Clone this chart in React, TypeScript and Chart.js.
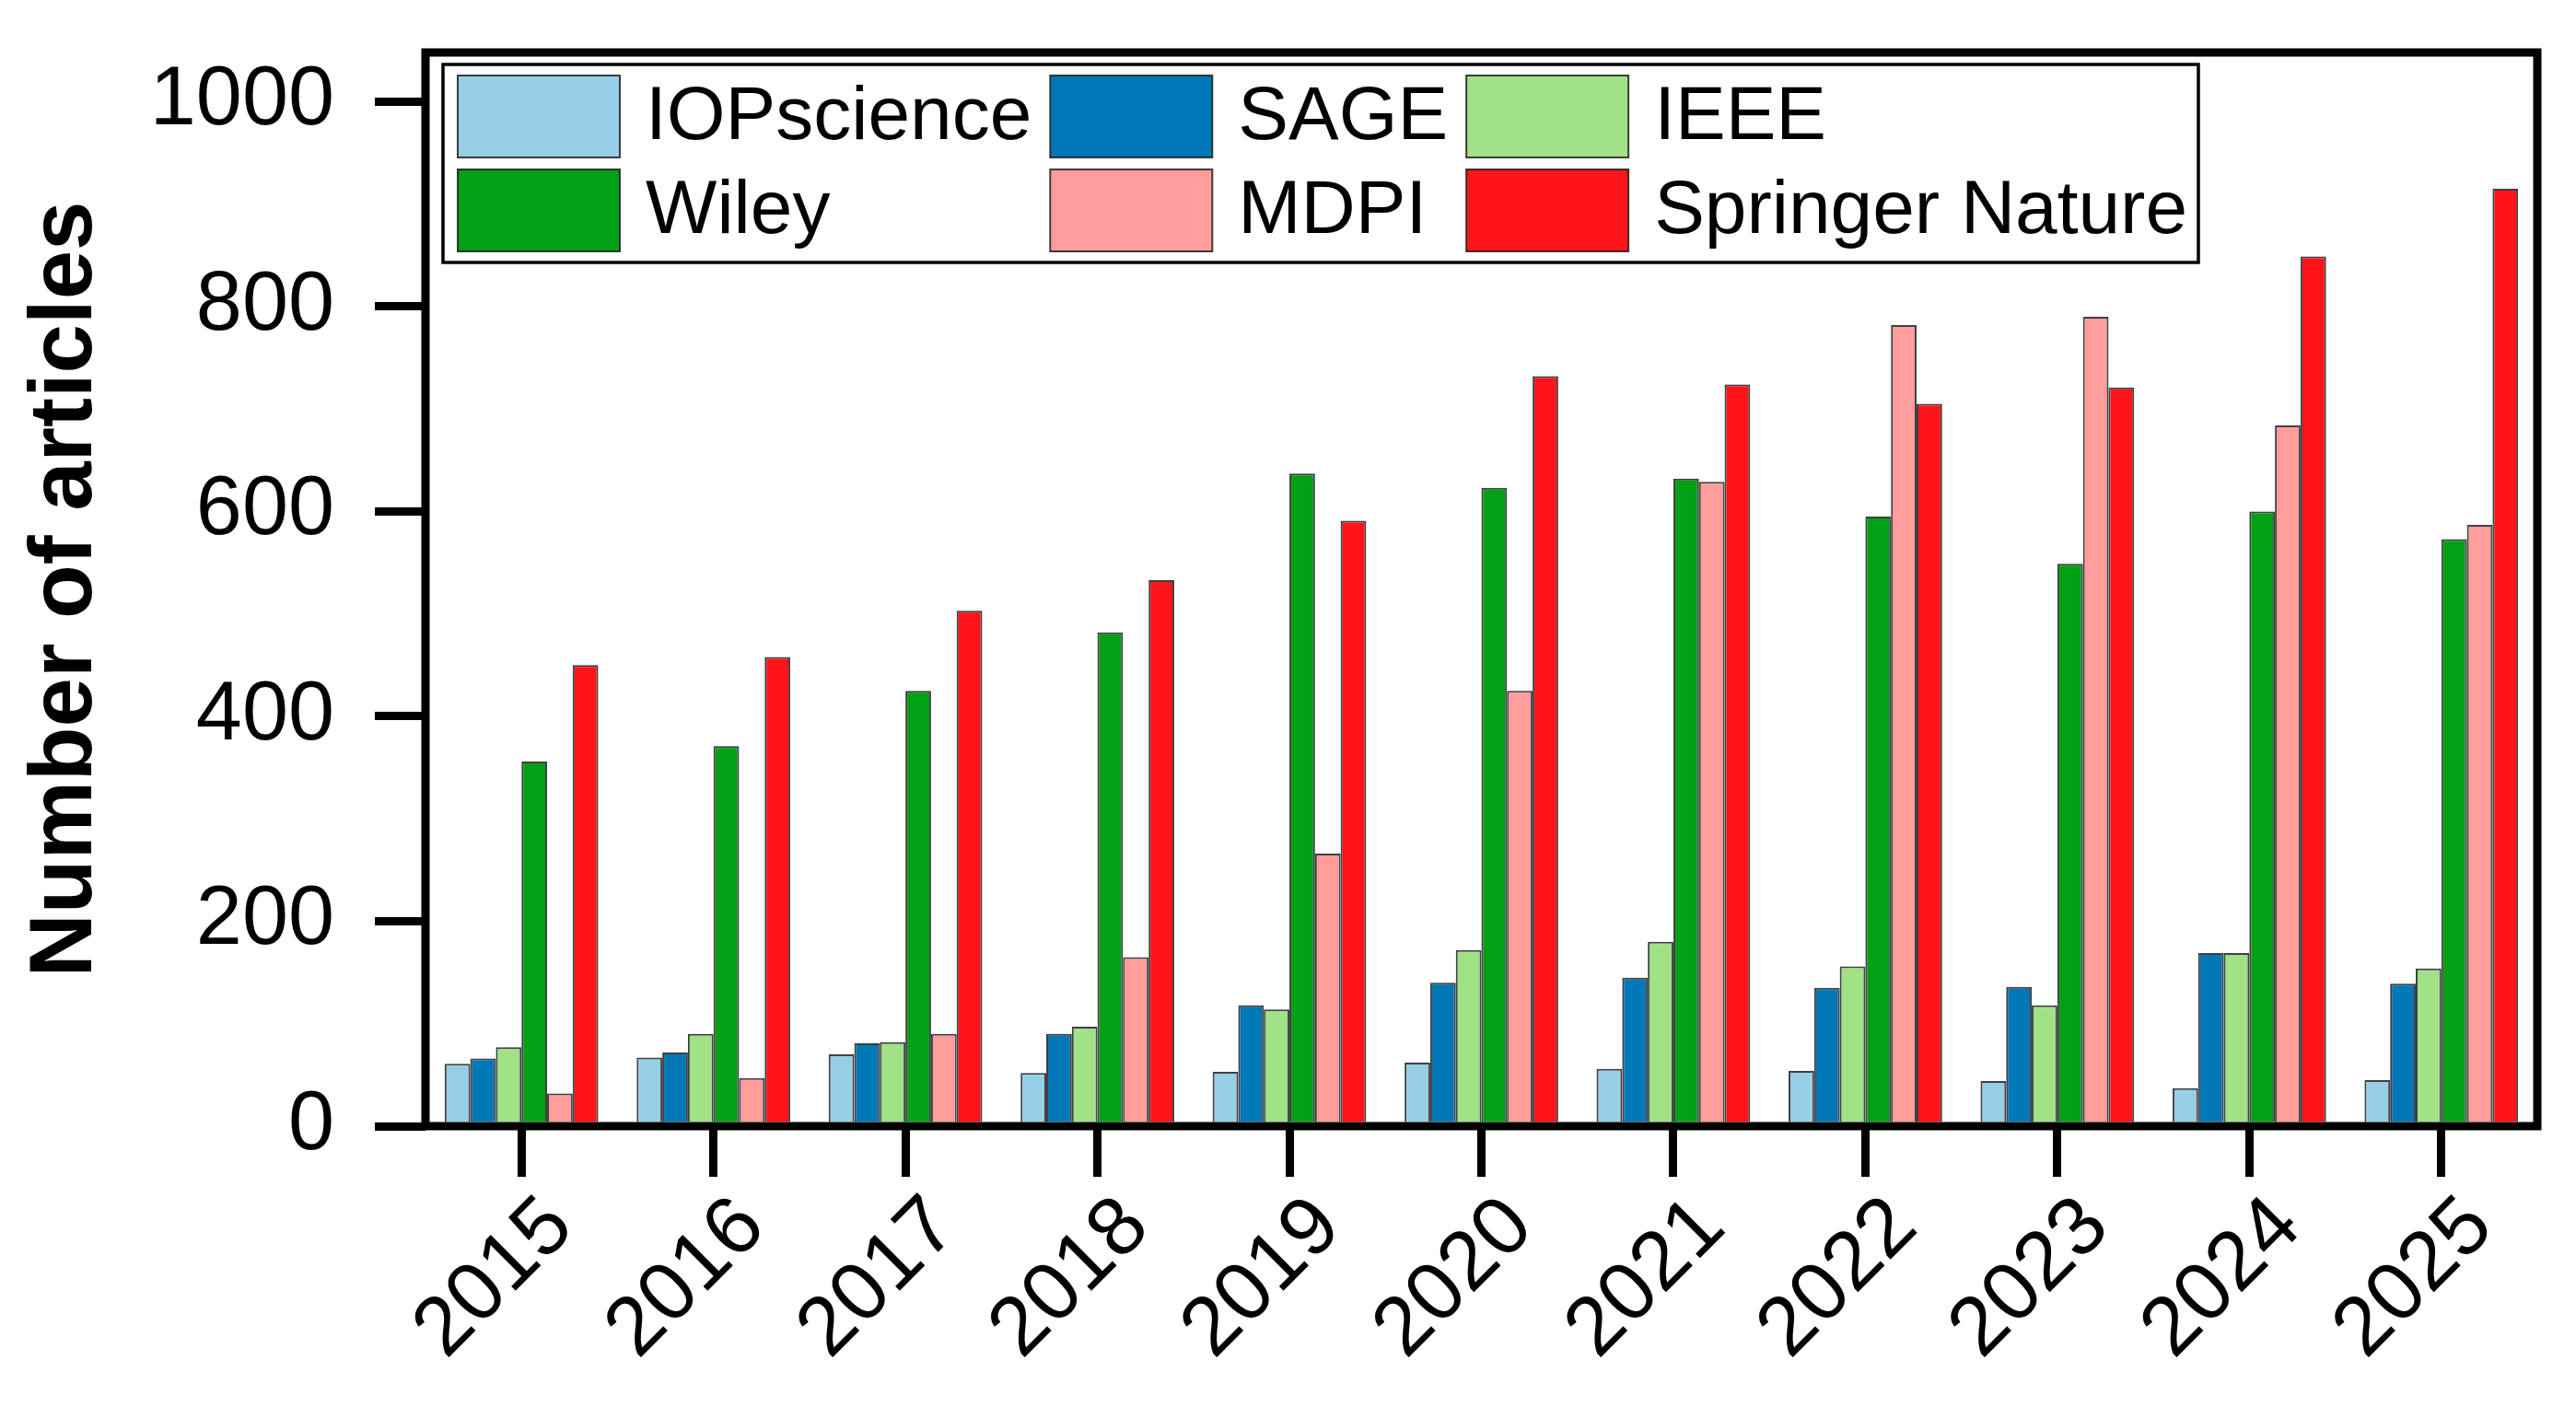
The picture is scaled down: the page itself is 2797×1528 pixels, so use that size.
import { useEffect, useRef } from 'react';
import { Chart, registerables } from 'chart.js';

Chart.register(...registerables);

// values
const years = ['2015', '2016', '2017', '2018', '2019', '2020', '2021', '2022', '2023', '2024', '2025'];
const iopscience = [61, 67, 70, 52, 53, 62, 56, 54, 44, 37, 45];
const sage = [66, 72, 81, 90, 118, 140, 145, 135, 136, 169, 139];
const ieee = [77, 90, 82, 97, 114, 172, 180, 156, 118, 169, 154];
const wiley = [356, 371, 425, 482, 637, 623, 632, 595, 549, 600, 573];
const mdpi = [32, 47, 90, 165, 266, 425, 629, 782, 790, 684, 587];
const springerNature = [450, 458, 503, 533, 591, 732, 724, 705, 721, 849, 915];
const yTicks = [0, 200, 400, 600, 800, 1000];

const FONT = '"Liberation Sans", Arial, Helvetica, sans-serif';

// thick black box round the plot area
const frame = {
  id: 'frame',
  afterDatasetsDraw(chart: any) {
    const { ctx, chartArea } = chart;
    ctx.save();
    ctx.strokeStyle = '#000';
    ctx.lineWidth = 9;
    ctx.lineJoin = 'miter';
    ctx.strokeRect(chartArea.left, chartArea.top, chartArea.right - chartArea.left, chartArea.bottom - chartArea.top);
    ctx.restore();
  },
};

// legend in a box, 3 columns x 2 rows, inside the plot
const boxLegend = {
  id: 'boxLegend',
  afterDraw(chart: any) {
    const { ctx, chartArea } = chart;
    const sets = chart.data.datasets;
    const cols = 3;
    const swW = 176;
    const swH = 89;
    const padX = 16;
    const padY = 12;
    const rowGap = 13;
    const textGap = 28;
    const colGap = 20;

    ctx.save();
    ctx.font = `82px ${FONT}`;

    const colWidths: number[] = [];
    for (let c = 0; c < cols; c++) {
      let w = 0;
      sets.forEach((d: any, i: number) => {
        if (i % cols === c) w = Math.max(w, ctx.measureText(d.label).width);
      });
      colWidths.push(w);
    }
    const rows = Math.ceil(sets.length / cols);

    const boxX = chartArea.left + 19;
    const boxY = chartArea.top + 13;
    let boxW = padX;
    colWidths.forEach((w, c) => {
      boxW += swW + textGap + w + (c < cols - 1 ? colGap : 0);
    });
    boxW += 12;
    const boxH = padY * 2 + rows * swH + (rows - 1) * rowGap;

    ctx.fillStyle = '#fff';
    ctx.fillRect(boxX, boxY, boxW, boxH);
    ctx.strokeStyle = '#000';
    ctx.lineWidth = 3.5;
    ctx.strokeRect(boxX, boxY, boxW, boxH);

    sets.forEach((d: any, i: number) => {
      const c = i % cols;
      const r = Math.floor(i / cols);
      let x = boxX + padX;
      for (let k = 0; k < c; k++) x += swW + textGap + colWidths[k] + colGap;
      const y = boxY + padY + r * (swH + rowGap);
      ctx.fillStyle = d.backgroundColor;
      ctx.fillRect(x, y, swW, swH);
      ctx.strokeStyle = 'rgba(30,30,30,0.85)';
      ctx.lineWidth = 2;
      ctx.strokeRect(x, y, swW, swH);
      ctx.fillStyle = '#000';
      ctx.textAlign = 'left';
      ctx.textBaseline = 'middle';
      ctx.fillText(d.label, x + swW + textGap, y + swH / 2 + 2);
    });
    ctx.restore();
  },
};

const PublishersChart = () => {
  const chartRef = useRef<HTMLCanvasElement>(null);
  const chartInstanceRef = useRef<Chart | null>(null);

  useEffect(() => {
    const ctx = chartRef.current!.getContext('2d')!;

    if (chartInstanceRef.current) {
      chartInstanceRef.current.destroy();
    }

    const bar = (label: string, data: number[], color: string) => ({
      label,
      data,
      backgroundColor: color,
      borderColor: 'rgba(30,30,30,0.85)',
      borderWidth: 2,
      categoryPercentage: 0.8,
      barPercentage: 1.0,
    });

    chartInstanceRef.current = new Chart(ctx, {
      type: 'bar',
      data: {
        labels: years,
        datasets: [
          bar('IOPscience', iopscience, '#96CFE6'),
          bar('SAGE', sage, '#0077B6'),
          bar('IEEE', ieee, '#A1E188'),
          bar('Wiley', wiley, '#00A014'),
          bar('MDPI', mdpi, '#FF9C9C'),
          bar('Springer Nature', springerNature, '#FF1419'),
        ],
      },
      options: {
        responsive: false,
        animation: false,
        devicePixelRatio: 1,
        layout: {
          padding: { top: 57, right: 42, bottom: 0, left: 0 },
        },
        scales: {
          x: {
            offset: true,
            border: { display: false },
            grid: {
              offset: false,
              drawOnChartArea: false,
              drawTicks: true,
              tickLength: 55,
              lineWidth: 9,
              color: '#000',
            },
            ticks: {
              autoSkip: false,
              maxRotation: 45,
              minRotation: 45,
              padding: 2,
              labelOffset: 42,
              color: '#000',
              font: { family: FONT, size: 90 },
            },
            afterFit: (s: any) => {
              s.height = 305;
              s.paddingLeft = 0;
              s.paddingRight = 0;
            },
          },
          y: {
            min: 0,
            max: 1048,
            border: { display: false },
            grid: {
              drawOnChartArea: false,
              drawTicks: true,
              tickLength: 55,
              lineWidth: 9,
              color: '#000',
            },
            ticks: {
              padding: 44,
              color: '#000',
              font: { family: FONT, size: 90 },
              callback: (v: any) => String(v),
            },
            afterBuildTicks: (s: any) => {
              s.ticks = yTicks.map((v) => ({ value: v }));
            },
            afterFit: (s: any) => {
              s.width = 462;
              s.paddingTop = 0;
              s.paddingBottom = 0;
            },
            title: {
              display: true,
              text: 'Number of articles',
              color: '#000',
              font: { family: FONT, size: 96, weight: 'bold' },
              padding: { top: 15, bottom: 0 },
            },
          },
        },
        plugins: {
          legend: { display: false },
          tooltip: { enabled: false },
        },
      },
      plugins: [frame, boxLegend],
    } as any);

    return () => {
      if (chartInstanceRef.current) {
        chartInstanceRef.current.destroy();
        chartInstanceRef.current = null;
      }
    };
  }, []);

  return (
    <div style={{ position: 'fixed', left: 0, top: 0, width: 2797, height: 1528, background: '#fff' }}>
      <canvas ref={chartRef} width={2797} height={1528}></canvas>
    </div>
  );
};

export default function App() {
  return <PublishersChart />;
}
